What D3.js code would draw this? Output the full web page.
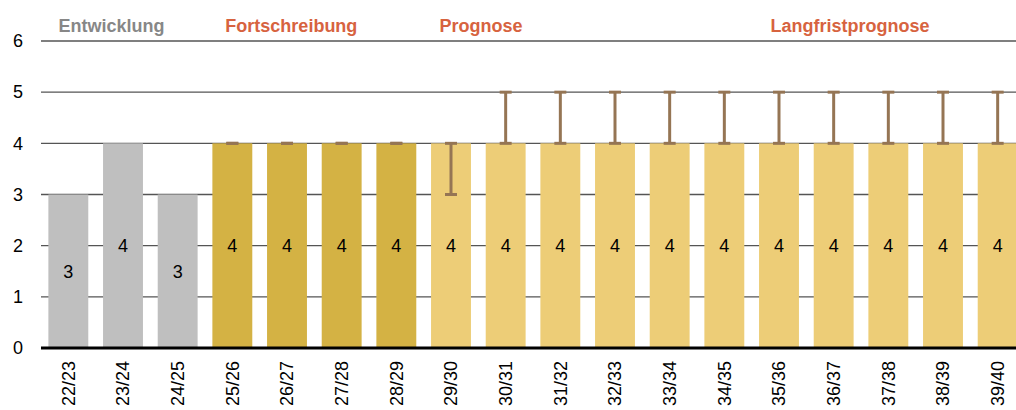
<!DOCTYPE html>
<html>
<head>
<meta charset="utf-8">
<script src="https://cdn.jsdelivr.net/npm/d3@7"></script>
<style>
  body { margin: 0; background: #fff; }
  text { font-family: "Liberation Sans", Arial, sans-serif; }
</style>
</head>
<body>
<svg id="js-svg" width="1016" height="410"></svg>
<script>
const categories = ["22/23","23/24","24/25","25/26","26/27","27/28","28/29","29/30","30/31","31/32","32/33","33/34","34/35","35/36","36/37","37/38","38/39","39/40"];
const values = [3,4,3,4,4,4,4,4,4,4,4,4,4,4,4,4,4,4];
const phases = ["hist","hist","hist","fort","fort","fort","fort","prog","prog","prog","prog","prog","prog","prog","prog","prog","prog","prog"];
const errLow = [null,null,null,4,4,4,4,3,4,4,4,4,4,4,4,4,4,4];
const errHigh = [null,null,null,4,4,4,4,4,5,5,5,5,5,5,5,5,5,5];
const yTicks = [0,1,2,3,4,5,6];
const headerTexts = ["Entwicklung", "Fortschreibung", "Prognose", "Langfristprognose"];
const headerColors = ["#878787", "#d7633f", "#d7633f", "#d7633f"];
// header centres, in units of category slots from the first bar centre
const headerSlots = [0.79, 4.08, 7.55, 14.3];
const phaseColor = { hist: "#bfbfbf", fort: "#d4b244", prog: "#edcd77" };

const svg = d3.select("#js-svg");
const plotLeft = 41, plotRight = 1025, plotTop = 41, plotBottom = 348;

const x = d3.scaleBand().domain(categories).range([plotLeft, plotRight]).paddingInner(0.27).paddingOuter(0.135);
const y = d3.scaleLinear().domain([0, 6]).range([plotBottom, plotTop]);
const cxCat = c => x(c) + x.bandwidth() / 2;

// gridlines
svg.append("g")
  .selectAll("line")
  .data(yTicks.filter(d => d > 0))
  .join("line")
  .attr("x1", plotLeft).attr("x2", 1016)
  .attr("y1", d => y(d)).attr("y2", d => y(d))
  .attr("stroke", "#555")
  .attr("stroke-width", 1.3);

// y labels
svg.append("g")
  .selectAll("text")
  .data(yTicks)
  .join("text")
  .attr("x", 18).attr("y", d => y(d))
  .attr("dy", "0.35em")
  .attr("text-anchor", "middle")
  .style("font-size", "18px")
  .text(d => d);

// bars
const data = categories.map((c, i) => ({ c, v: values[i], p: phases[i], lo: errLow[i], hi: errHigh[i] }));
svg.append("g")
  .selectAll("rect")
  .data(data)
  .join("rect")
  .attr("x", d => x(d.c))
  .attr("width", x.bandwidth())
  .attr("y", d => y(d.v))
  .attr("height", d => y(0) - y(d.v))
  .attr("fill", d => phaseColor[d.p]);

// value labels
svg.append("g")
  .selectAll("text")
  .data(data)
  .join("text")
  .attr("x", d => cxCat(d.c))
  .attr("y", d => y(d.v / 2))
  .attr("dy", "0.35em")
  .attr("text-anchor", "middle")
  .style("font-size", "18px")
  .text(d => d.v);

// error bars
const eb = svg.append("g").attr("stroke", "#957554").attr("stroke-width", 3);
const ebData = data.filter(d => d.lo != null);
eb.selectAll(".stem").data(ebData).join("line").attr("class", "stem")
  .attr("x1", d => cxCat(d.c)).attr("x2", d => cxCat(d.c))
  .attr("y1", d => y(d.lo)).attr("y2", d => y(d.hi));
eb.selectAll(".capHi").data(ebData).join("line").attr("class", "capHi")
  .attr("x1", d => cxCat(d.c) - 6).attr("x2", d => cxCat(d.c) + 6)
  .attr("y1", d => y(d.hi)).attr("y2", d => y(d.hi));
eb.selectAll(".capLo").data(ebData).join("line").attr("class", "capLo")
  .attr("x1", d => cxCat(d.c) - 6).attr("x2", d => cxCat(d.c) + 6)
  .attr("y1", d => y(d.lo)).attr("y2", d => y(d.lo));

// baseline
svg.append("line")
  .attr("x1", plotLeft).attr("x2", 1016)
  .attr("y1", y(0)).attr("y2", y(0))
  .attr("stroke", "#000").attr("stroke-width", 3);

// x labels
svg.append("g")
  .selectAll("text")
  .data(categories)
  .join("text")
  .attr("transform", d => `translate(${cxCat(d)}, 361) rotate(-90)`)
  .attr("dy", "0.35em")
  .attr("text-anchor", "end")
  .style("font-size", "18px")
  .text(d => d);

// phase headers
const slot = x.step();
svg.append("g")
  .selectAll("text")
  .data(headerTexts)
  .join("text")
  .attr("x", (d, i) => cxCat(categories[0]) + headerSlots[i] * slot)
  .attr("y", 32)
  .attr("text-anchor", "middle")
  .style("font-size", "18px")
  .style("font-weight", "bold")
  .attr("fill", (d, i) => headerColors[i])
  .text(d => d);
</script>
</body>
</html>
